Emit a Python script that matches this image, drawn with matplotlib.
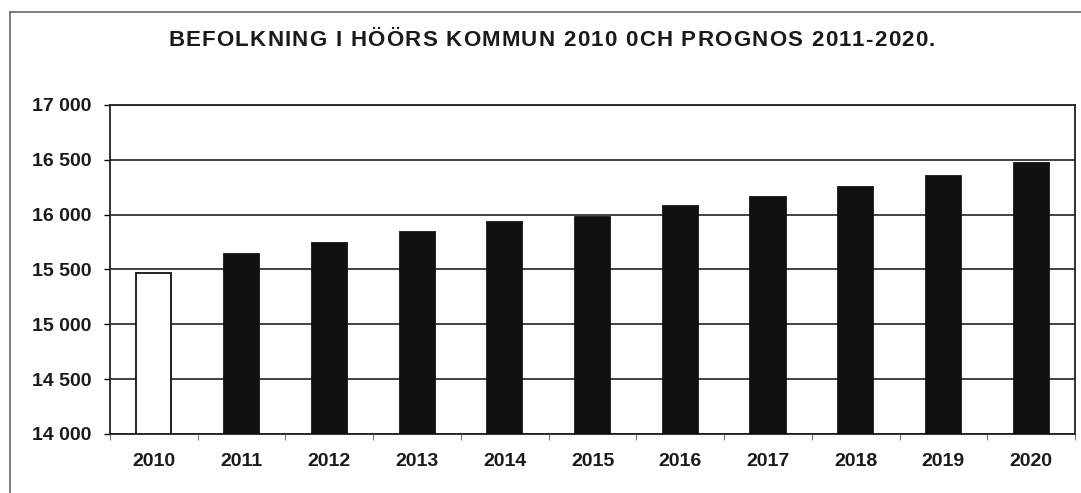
import matplotlib
matplotlib.use("Agg")
import matplotlib.pyplot as plt
from matplotlib.lines import Line2D
from matplotlib.ticker import FuncFormatter, FixedLocator

years = ["2010", "2011", "2012", "2013", "2014", "2015", "2016", "2017", "2018", "2019", "2020"]
population = [15465, 15640, 15740, 15840, 15930, 15980, 16080, 16165, 16255, 16355, 16470]
y_ticks = [14000, 14500, 15000, 15500, 16000, 16500, 17000]
title = "BEFOLKNING I HÖÖRS KOMMUN 2010 0CH PROGNOS 2011-2020."

plt.rcParams['font.family'] = ['Liberation Sans', 'DejaVu Sans']

W, H = 1081, 493
fig = plt.figure(figsize=(W/100, H/100), dpi=100)
fig.patch.set_facecolor("white")
ax = fig.add_axes([110/W, 1-434/H, (1075-110)/W, (434-105)/H])

x = list(range(len(years)))
colors = ["white"] + ["#111111"] * (len(years) - 1)
ax.bar(x, [p - 14000 for p in population], bottom=14000, width=0.4,
       color=colors, edgecolor="#111111", linewidth=1.3, zorder=3)

ax.set_xlim(-0.5, len(years) - 0.5)
ax.set_ylim(14000, 17000)
ax.set_yticks(y_ticks)
ax.yaxis.set_major_formatter(FuncFormatter(lambda v, p: f"{int(v):,}".replace(",", " ")))
ax.grid(axis="y", color="#333333", linewidth=1.3, zorder=0)

ax.set_xticks(x)
ax.set_xticklabels(years)
ax.xaxis.set_minor_locator(FixedLocator([i + 0.5 for i in range(-1, len(years))]))
ax.tick_params(axis="x", which="major", length=0, pad=14, labelsize=14)
ax.tick_params(axis="x", which="minor", length=4, width=0.8, color="#777777")
ax.tick_params(axis="y", length=4, width=1, pad=9.5, labelsize=14)
for lab in ax.get_xticklabels() + ax.get_yticklabels():
    lab.set_fontweight("bold")
    lab.set_color("#1a1a1a")

for s in ax.spines.values():
    s.set_color("#222222")
    s.set_linewidth(1.3)

# Title with letter spacing: place characters individually
fig.canvas.draw()
renderer = fig.canvas.get_renderer()
fs = 16
title_left, title_right, title_y = 168, 935, 1-41/H
widths = []
for ch in title:
    if ch == " ":
        widths.append(fs * 100/72 * 0.278)
    else:
        t = fig.text(0, 0, ch, fontsize=fs, fontweight="bold")
        widths.append(t.get_window_extent(renderer).width)
        t.remove()
spacing = (title_right - title_left - sum(widths)) / (len(title) - 1)
cx = title_left
for ch, w in zip(title, widths):
    if ch != " ":
        fig.text(cx/W, title_y, ch, ha="left", va="center", fontsize=fs,
                 fontweight="bold", color="#1a1a1a")
    cx += w + spacing

fig.add_artist(Line2D([10/W, 1], [1-12/H, 1-12/H], color="#666666", linewidth=1.2))
fig.add_artist(Line2D([10/W, 10/W], [0, 1-12/H], color="#666666", linewidth=1.2))

fig.savefig("out.png", dpi=100, facecolor="white")
